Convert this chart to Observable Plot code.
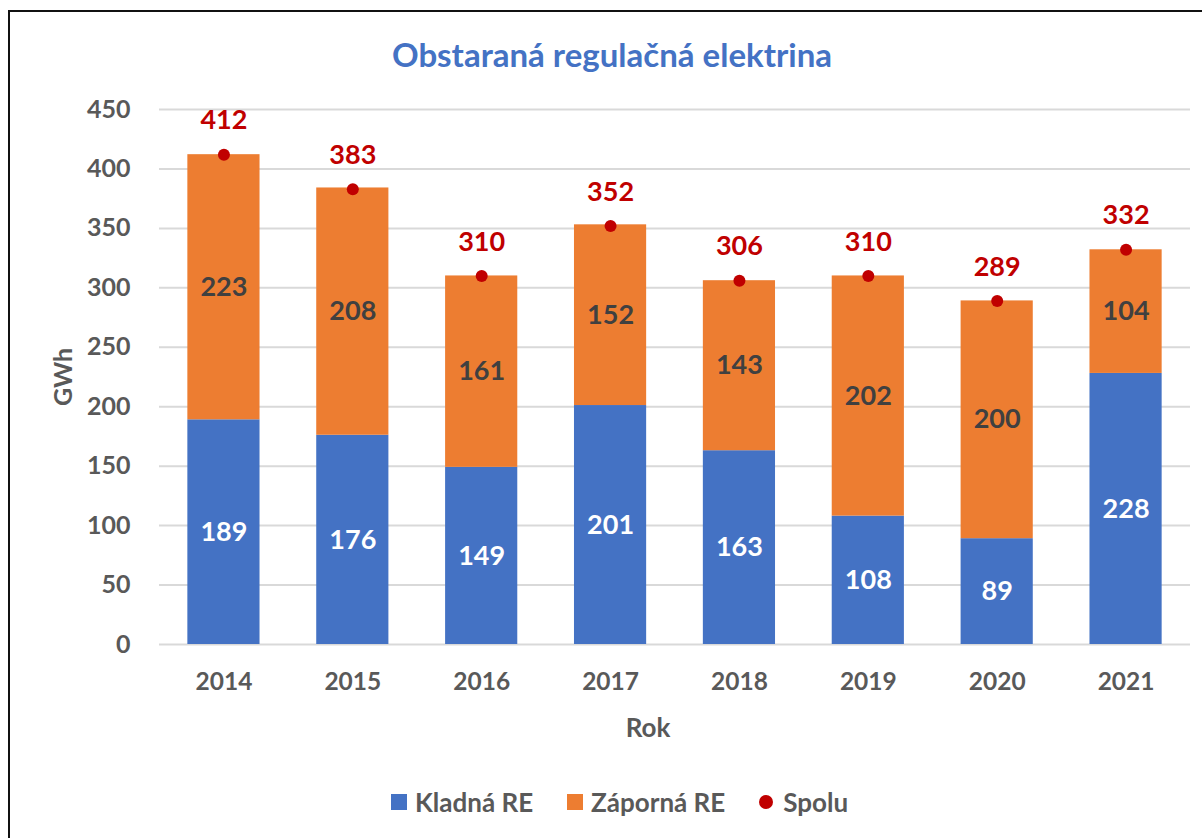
<!DOCTYPE html>
<html>
<head>
<meta charset="utf-8">
<script src="https://cdn.jsdelivr.net/npm/d3@7"></script>
<script src="https://cdn.jsdelivr.net/npm/@observablehq/plot@0.6"></script>
<style>
  html, body { margin: 0; padding: 0; background: #fff; overflow: hidden; }
  body { width: 1202px; height: 838px; position: relative; font-family: Lato, "Open Sans", sans-serif; }
  #frame { position: absolute; left: 8px; top: 10px; width: 1220px; height: 860px; border: 2px solid #111; box-sizing: border-box; }
  #title { position: absolute; left: 612px; top: 54px; transform: translate(-50%, -50%); white-space: nowrap; font-size: 33px; font-weight: bold; color: #4472C4; }
  #chart { position: absolute; left: 0; top: 0; }
  #ylab { position: absolute; left: 62px; top: 377px; transform: translate(-50%, -50%) rotate(-90deg); font-size: 25px; font-weight: bold; color: #595959; }
  #xlab { position: absolute; left: 648px; top: 727px; transform: translate(-50%, -50%); font-size: 26px; font-weight: bold; color: #595959; }
  #legend { position: absolute; left: 391px; top: 802px; transform: translateY(-50%); display: flex; align-items: center; font-size: 26px; font-weight: bold; color: #595959; white-space: nowrap; }
  .sw { display: inline-block; width: 16px; height: 16px; margin-right: 8px; }
  .dot { display: inline-block; width: 14px; height: 14px; border-radius: 50%; margin-right: 10px; }
  .item { display: flex; align-items: center; margin-right: 34px; }
</style>
</head>
<body>
<div id="frame"></div>
<div id="title">Obstaraná regulačná elektrina</div>
<div id="chart"></div>
<div id="ylab">GWh</div>
<div id="xlab">Rok</div>
<div id="legend"></div>
<script>
const years = ["2014", "2015", "2016", "2017", "2018", "2019", "2020", "2021"];
const kladna = [189, 176, 149, 201, 163, 108, 89, 228];
const zaporna = [223, 208, 161, 152, 143, 202, 200, 104];
const spolu = [412, 383, 310, 352, 306, 310, 289, 332];
const seriesNames = ["Kladná RE", "Záporná RE", "Spolu"];
const colors = ["#4472C4", "#ED7D31", "#C00000"];
const yTicks = [0, 50, 100, 150, 200, 250, 300, 350, 400, 450];

const stacked = [];
years.forEach((y, i) => {
  stacked.push({year: y, series: seriesNames[0], value: kladna[i]});
  stacked.push({year: y, series: seriesNames[1], value: zaporna[i]});
});
const totals = years.map((y, i) => ({year: y, value: spolu[i]}));

const chart = Plot.plot({
  width: 1202,
  height: 838,
  marginTop: 109,
  marginBottom: 194,
  marginLeft: 159,
  marginRight: 12,
  style: {fontFamily: "Lato, 'Open Sans', sans-serif", fontWeight: "bold", background: "transparent"},
  x: {domain: years, paddingInner: 0.44, paddingOuter: 0.22, round: false, label: null},
  y: {domain: [0, 450], label: null},
  color: {domain: seriesNames.slice(0, 2), range: colors.slice(0, 2)},
  marks: [
    Plot.gridY(yTicks, {stroke: "#d9d9d9", strokeOpacity: 1, strokeWidth: 2}),
    Plot.axisY(yTicks, {tickSize: 0, tickPadding: 29, fontSize: 25, fill: "#595959", label: null}),
    Plot.axisX({tickSize: 0, tickPadding: 28, fontSize: 24.5, fill: "#595959", label: null}),
    Plot.barY(stacked, {x: "year", y: "value", z: "series", fill: "series", order: seriesNames.slice(0, 2)}),
    Plot.text(stacked, Plot.stackY({x: "year", y: "value", z: "series", order: seriesNames.slice(0, 2), text: "value",
      fill: d => d.series === seriesNames[0] ? "#ffffff" : "#404040", fontSize: 27, fontWeight: "bold"})),
    Plot.dot(totals, {x: "year", y: "value", r: 6, fill: colors[2], stroke: "none"}),
    Plot.text(totals, {x: "year", y: "value", text: "value", dy: -34, fill: colors[2], fontSize: 27, fontWeight: "bold"})
  ]
});
document.getElementById("chart").appendChild(chart);

const legend = document.getElementById("legend");
seriesNames.forEach((n, i) => {
  const item = document.createElement("div");
  item.className = "item";
  const m = document.createElement("span");
  m.className = i < 2 ? "sw" : "dot";
  m.style.background = colors[i];
  item.appendChild(m);
  item.appendChild(document.createTextNode(n));
  legend.appendChild(item);
});
</script>
</body>
</html>
